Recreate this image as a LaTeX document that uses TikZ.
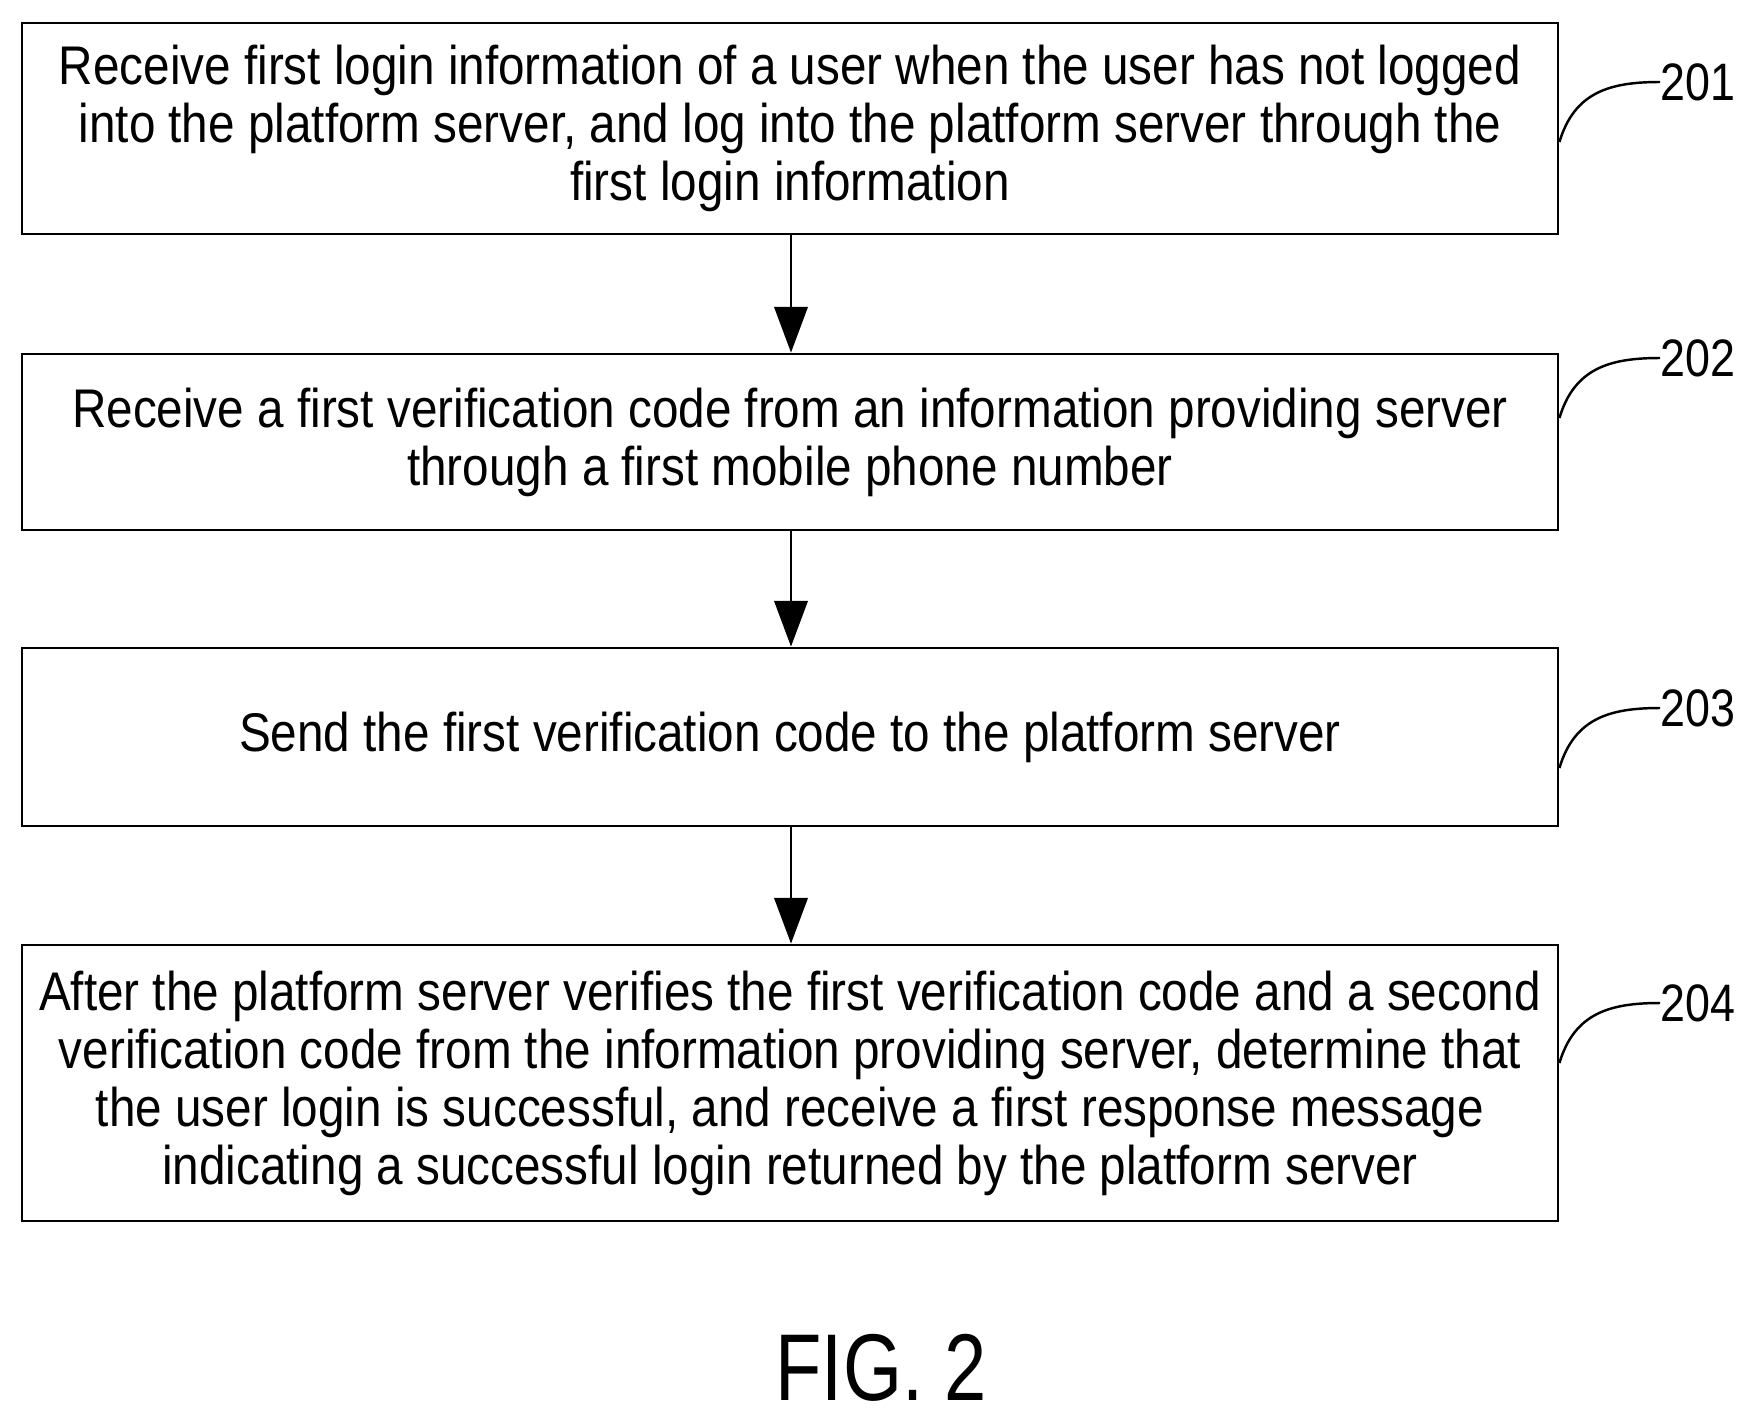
\documentclass[tikz,border=0pt]{standalone}
\usepackage{fontspec}
\setmainfont{Liberation Sans}[FakeStretch=0.875]
\newfontfamily\lab{Liberation Sans}[FakeStretch=0.85]
\newfontfamily\figf{Liberation Sans}[FakeStretch=0.8]
\usetikzlibrary{arrows.meta}
\begin{document}
\begin{tikzpicture}[x=0.02cm,y=-0.02cm,
  box/.style={draw,line width=1.6pt,align=center,font=\fontsize{31}{33}\selectfont,inner sep=0pt},
  arr/.style={-{Triangle[length=26pt,width=19pt]},line width=1.4pt},
  lead/.style={line width=1.4pt},
  lbl/.style={font=\lab\fontsize{30}{31}\selectfont,anchor=west,inner sep=0pt}]
\useasboundingbox (0,0) rectangle (1758,1423);
\node[box,minimum width=1536*0.02cm,minimum height=211*0.02cm] (b1) at (790,128.5)
 {Receive first login information of a user when the user has not logged\\into the platform server, and log into the platform server through the\\first login information};
\node[box,minimum width=1536*0.02cm,minimum height=176*0.02cm] (b2) at (790,442)
 {Receive a first verification code from an information providing server\\through a first mobile phone number};
\node[box,minimum width=1536*0.02cm,minimum height=178*0.02cm] (b3) at (790,737)
 {Send the first verification code to the platform server};
\node[box,minimum width=1536*0.02cm,minimum height=276*0.02cm] (b4) at (790,1083)
 {After the platform server verifies the first verification code and a second\\verification code from the information providing server, determine that\\the user login is successful, and receive a first response message\\indicating a successful login returned by the platform server};
\draw[arr] (b1.south -| 791,0) -- (b2.north -| 791,0);
\draw[arr] (b2.south -| 791,0) -- (b3.north -| 791,0);
\draw[arr] (b3.south -| 791,0) -- (b4.north -| 791,0);
\foreach \b/\t/\y in {b1/201/82,b2/202/358,b3/203/708,b4/204/1003}{
  \node[lbl] (l\t) at (1660,\y) {\t};
  \coordinate (s\t) at ([yshift=-1.2cm]\b.east |- 0,\y);
  \draw[lead] (s\t) .. controls +(15,-50) and +(-50,0) .. (l\t.west);
}
\node[font=\figf\fontsize{54}{56}\selectfont] (fig) at (881,1368) {FIG. 2};
\end{tikzpicture}
\end{document}
